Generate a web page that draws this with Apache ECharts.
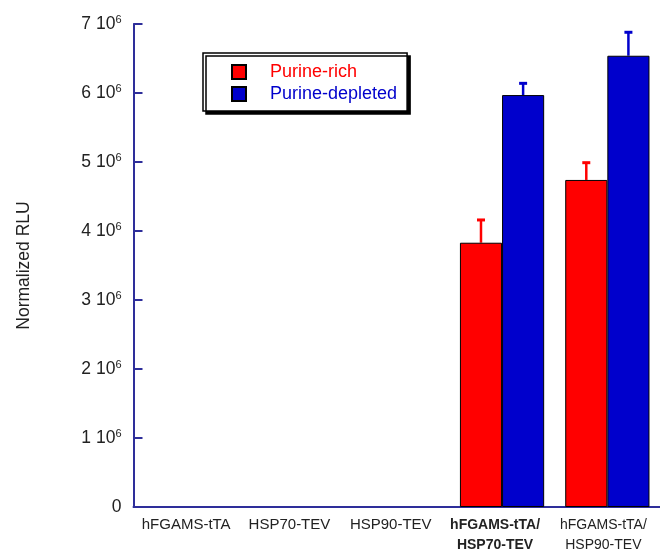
<!DOCTYPE html>
<html>
<head>
<meta charset="utf-8">
<script src="https://cdn.jsdelivr.net/npm/echarts@6/dist/echarts.min.js"></script>
<style>
html,body{margin:0;padding:0;background:#fff;}
#chart{width:660px;height:552px;}
</style>
</head>
<body>
<div id="chart"></div>
<script>
// ---- data ----
var categories = ['hFGAMS-tTA', 'HSP70-TEV', 'HSP90-TEV', 'hFGAMS-tTA/\nHSP70-TEV', 'hFGAMS-tTA/\nHSP90-TEV'];
var purineRich = [0, 0, 0, 3.83e6, 4.74e6];
var purineRichErr = [0, 0, 0, 0.33e6, 0.25e6];
var purineDepleted = [0, 0, 0, 5.97e6, 6.54e6];
var purineDepletedErr = [0, 0, 0, 0.17e6, 0.34e6];
var seriesNames = ['Purine-rich', 'Purine-depleted'];
var yMax = 7e6;
var yStep = 1e6;
var boldCategory = 3;

var RED = '#ff0000', BLUE = '#0000cc', AXIS = '#2e2e9a', TXT = '#222222';
var FONT = 'Liberation Sans, Arial, sans-serif';
// small per-label horizontal nudges (px, negative = left)
var labelShift = [0, -2, -6, -7, -4];

function barData(vals) {
  return vals.map(function (v) {
    return v === 0 ? { value: v, itemStyle: { borderWidth: 0 } } : v;
  });
}

function errData(vals, errs) {
  return vals.map(function (v, i) { return [i, v, v + errs[i]]; });
}

function errSeries(name, vals, errs, color, side) {
  return {
    type: 'custom',
    name: name + ' err',
    silent: true,
    z: 1,
    data: errData(vals, errs),
    renderItem: function (params, api) {
      var i = api.value(0), v = api.value(1), hi = api.value(2);
      if (hi <= v) return null;
      var band = api.size([1, 0])[0];
      var base = api.coord([i, v]);
      var top = api.coord([i, hi]);
      var x = base[0] + side * band * 0.2;
      var cap = 4;
      return {
        type: 'group',
        children: [
          { type: 'line', shape: { x1: x, y1: base[1], x2: x, y2: top[1] },
            style: { stroke: color, lineWidth: 2.5 } },
          { type: 'line', shape: { x1: x - cap, y1: top[1], x2: x + cap, y2: top[1] },
            style: { stroke: color, lineWidth: 3 } }
        ]
      };
    }
  };
}

function pad(shift) {
  return shift < 0 ? [0, -2 * shift, 0, 0] : [0, 0, 0, 2 * shift];
}

var rich = {};
labelShift.forEach(function (s, i) {
  var two = categories[i].indexOf('\n') >= 0;
  rich['c' + i] = {
    fontSize: two ? 14 : 15,
    fontWeight: i === boldCategory ? 'bold' : 'normal',
    fontFamily: FONT, color: TXT, lineHeight: 20,
    padding: pad(s)
  };
});

var chart = echarts.init(document.getElementById('chart'), null, { renderer: 'canvas' });
chart.setOption({
  backgroundColor: '#fff',
  animation: false,
  textStyle: { fontFamily: FONT },
  grid: { left: 133.5, top: 24, bottom: 45, width: 530, containLabel: false },
  legend: {
    orient: 'vertical',
    left: 203, top: 53,
    padding: [10, 10, 8, 28],
    itemWidth: 14, itemHeight: 14, itemGap: 4,
    backgroundColor: '#fff',
    borderColor: '#000', borderWidth: 1.5,
    shadowColor: '#000', shadowBlur: 0, shadowOffsetX: 3, shadowOffsetY: 3,
    icon: 'rect',
    selectedMode: false,
    textStyle: { fontSize: 18, fontFamily: FONT, padding: [0, 0, 0, 19] },
    data: [
      { name: seriesNames[0], textStyle: { color: RED } },
      { name: seriesNames[1], textStyle: { color: BLUE } }
    ]
  },
  xAxis: {
    type: 'category',
    data: categories,
    axisLine: { lineStyle: { color: AXIS, width: 2 } },
    axisTick: { inside: true, length: 7, lineStyle: { color: AXIS, width: 2 } },
    axisLabel: {
      interval: 0,
      margin: 8,
      color: TXT,
      fontFamily: FONT,
      formatter: function (val, idx) {
        return val.split('\n').map(function (s) { return '{c' + idx + '|' + s + '}'; }).join('\n');
      },
      rich: rich
    }
  },
  yAxis: {
    type: 'value',
    min: 0, max: yMax, interval: yStep,
    name: 'Normalized RLU',
    nameLocation: 'middle',
    nameGap: 100,
    nameTextStyle: { fontSize: 17.5, color: TXT, fontFamily: FONT },
    splitLine: { show: false },
    axisLine: { show: true, lineStyle: { color: AXIS, width: 2 } },
    axisTick: { show: true, inside: true, length: 9, lineStyle: { color: AXIS, width: 2 } },
    axisLabel: {
      margin: 12,
      color: TXT,
      formatter: function (v) {
        if (v === 0) return '{b|0}';
        return '{b|' + (v / 1e6) + ' 10}{s|6}';
      },
      rich: {
        b: { fontSize: 17.5, fontFamily: FONT, color: TXT, lineHeight: 20 },
        s: { fontSize: 11, fontFamily: FONT, color: TXT, lineHeight: 20, verticalAlign: 'top', padding: [0, 0, 8, 0] }
      }
    }
  },
  series: [
    {
      type: 'bar', name: seriesNames[0], data: barData(purineRich),
      barGap: '0%', barCategoryGap: '20%',
      itemStyle: { color: RED, borderColor: '#000', borderWidth: 1 },
      z: 2
    },
    {
      type: 'bar', name: seriesNames[1], data: barData(purineDepleted),
      barGap: '0%', barCategoryGap: '20%',
      itemStyle: { color: BLUE, borderColor: '#000', borderWidth: 1 },
      z: 2
    },
    errSeries(seriesNames[0], purineRich, purineRichErr, RED, -1),
    errSeries(seriesNames[1], purineDepleted, purineDepletedErr, BLUE, 1)
  ]
});
</script>
</body>
</html>
